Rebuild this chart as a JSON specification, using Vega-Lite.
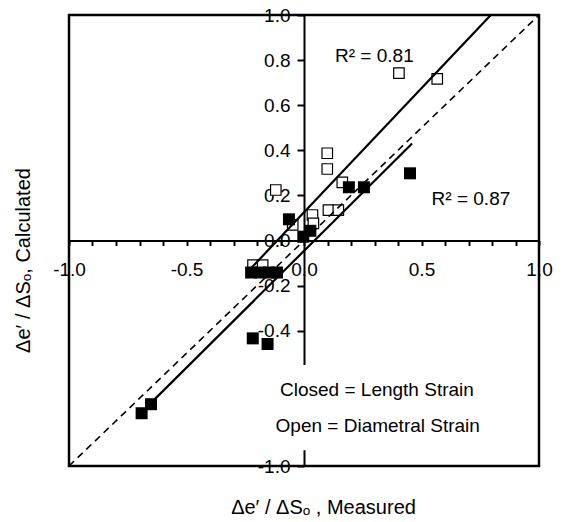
{
  "$schema": "https://vega.github.io/schema/vega-lite/v6.json",
  "width": 470,
  "height": 451,
  "autosize": {"type": "none"},
  "padding": {"left": 69, "top": 15, "right": 26, "bottom": 56},
  "config": {"view": {"stroke": null}, "font": "Liberation Sans"},
  "datasets": {
    "open": [
      {"x": 0.404, "y": 0.742}, {"x": 0.567, "y": 0.717}, {"x": 0.099, "y": 0.387},
      {"x": 0.099, "y": 0.317}, {"x": -0.120, "y": 0.224}, {"x": 0.163, "y": 0.258},
      {"x": 0.104, "y": 0.135}, {"x": 0.146, "y": 0.135}, {"x": 0.036, "y": 0.113},
      {"x": -0.048, "y": 0.069}, {"x": 0.040, "y": 0.076}, {"x": -0.217, "y": -0.109},
      {"x": -0.176, "y": -0.109}
    ],
    "closed": [
      {"x": 0.191, "y": 0.236}, {"x": 0.255, "y": 0.236}, {"x": 0.451, "y": 0.298},
      {"x": -0.064, "y": 0.094}, {"x": 0.027, "y": 0.043}, {"x": -0.003, "y": 0.017},
      {"x": -0.225, "y": -0.142}, {"x": -0.185, "y": -0.142}, {"x": -0.150, "y": -0.142},
      {"x": -0.115, "y": -0.142}, {"x": -0.218, "y": -0.434}, {"x": -0.155, "y": -0.459},
      {"x": -0.691, "y": -0.766}, {"x": -0.651, "y": -0.726}
    ],
    "fits": [
      {"series": "A", "x": -0.23, "y": -0.128}, {"series": "A", "x": 0.795, "y": 1.0},
      {"series": "B", "x": -0.651, "y": -0.72}, {"series": "B", "x": 0.46, "y": 0.43}
    ],
    "diag": [{"x": -1, "y": -1}, {"x": 1, "y": 1}],
    "box": [{"x": -0.21, "x2": 0.85, "y": -0.93, "y2": -0.552}],
    "frame": [{"x": -1, "x2": 1, "y": -1, "y2": 1}],
    "notes": [
      {"x": 0.132, "y": 0.793, "label": "R² = 0.81"},
      {"x": 0.543, "y": 0.157, "label": "R² = 0.87"},
      {"x": -0.102, "y": -0.690, "label": "Closed = Length Strain"},
      {"x": -0.121, "y": -0.848, "label": "Open = Diametral Strain"}
    ]
  },
  "encoding": {
    "x": {
      "field": "x", "type": "quantitative",
      "scale": {"domain": [-1, 1], "nice": false, "zero": false},
      "axis": {
        "orient": "bottom", "offset": -225.5, "grid": false,
        "values": [-1, -0.9, -0.8, -0.7, -0.6, -0.5, -0.4, -0.3, -0.2, -0.1, 0, 0.1, 0.2, 0.3, 0.4, 0.5, 0.6, 0.7, 0.8, 0.9, 1],
        "labelExpr": "abs(datum.value*2 - round(datum.value*2)) < 0.001 ? (datum.value < 0 ? '-' : '') + format(abs(datum.value), '.1f') : ''",
        "domainColor": "black", "domainWidth": 2,
        "tickColor": "black", "tickWidth": 2, "tickSize": 5,
        "labelPadding": 24, "labelBaseline": "middle", "labelFlush": false, "labelOverlap": false, "labelBound": false,
        "labelFont": "Liberation Sans", "labelFontSize": 19, "labelColor": "black",
        "title": "Δe′ / ΔSₒ , Measured", "titleX": 254, "titleY": 273, "titleBaseline": "alphabetic", "titleAlign": "center",
        "titleFont": "Liberation Sans", "titleFontSize": 20, "titleFontWeight": "normal", "titleColor": "black"
      }
    },
    "y": {
      "field": "y", "type": "quantitative",
      "scale": {"domain": [-1, 1], "nice": false, "zero": false},
      "axis": {
        "orient": "left", "offset": -235, "grid": false,
        "values": [-1, -0.4, -0.2, 0, 0.2, 0.4, 0.6, 0.8, 1],
        "labelExpr": "(datum.value < 0 ? '-' : '') + format(abs(datum.value), '.1f')",
        "domainColor": "black", "domainWidth": 2,
        "tickColor": "black", "tickWidth": 2, "tickSize": 7,
        "labelPadding": 7, "labelFlush": false, "labelOverlap": false, "labelBound": false,
        "labelFont": "Liberation Sans", "labelFontSize": 19, "labelColor": "black",
        "title": "Δe′ / ΔSₒ, Calculated", "titleX": -281, "titleY": 245, "titleAngle": -90,
        "titleBaseline": "middle", "titleAlign": "center",
        "titleFont": "Liberation Sans", "titleFontSize": 20, "titleFontWeight": "normal", "titleColor": "black"
      }
    }
  },
  "layer": [
    {
      "data": {"name": "open"},
      "mark": {"type": "point", "shape": "square", "filled": false, "fill": "white", "fillOpacity": 1, "stroke": "black", "strokeWidth": 1.2, "size": 110, "opacity": 1}
    },
    {
      "data": {"name": "fits"},
      "mark": {"type": "line", "color": "black", "strokeWidth": 2.2},
      "encoding": {"detail": {"field": "series"}}
    },
    {
      "data": {"name": "diag"},
      "mark": {"type": "line", "color": "black", "strokeWidth": 1.6, "strokeDash": [7, 5]},
      "encoding": {}
    },
    {
      "data": {"name": "closed"},
      "mark": {"type": "point", "shape": "square", "filled": true, "fill": "black", "strokeWidth": 0, "size": 144, "opacity": 1}
    },
    {
      "data": {"name": "box"},
      "mark": {"type": "rect", "fill": "white", "stroke": null},
      "encoding": {"x2": {"field": "x2"}, "y2": {"field": "y2"}}
    },
    {
      "data": {"name": "notes"},
      "mark": {"type": "text", "align": "left", "baseline": "alphabetic", "font": "Liberation Sans", "fontSize": 19, "color": "black"},
      "encoding": {"text": {"field": "label"}}
    },
    {
      "data": {"name": "frame"},
      "mark": {"type": "rect", "fill": "transparent", "stroke": "black", "strokeWidth": 2.5},
      "encoding": {"x2": {"field": "x2"}, "y2": {"field": "y2"}}
    }
  ]
}
